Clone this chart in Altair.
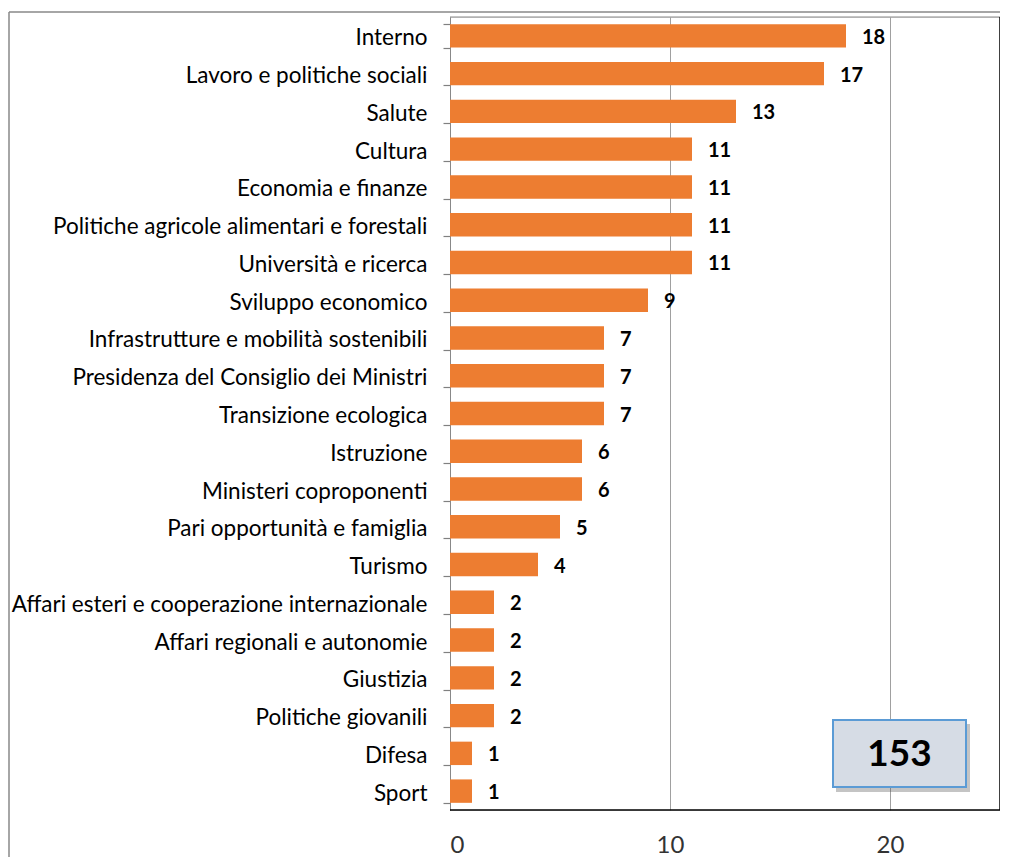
import altair as alt
import pandas as pd

categories = [
    "Interno", "Lavoro e politiche sociali", "Salute", "Cultura", "Economia e finanze",
    "Politiche agricole alimentari e forestali", "Università e ricerca", "Sviluppo economico",
    "Infrastrutture e mobilità sostenibili", "Presidenza del Consiglio dei Ministri",
    "Transizione ecologica", "Istruzione", "Ministeri coproponenti",
    "Pari opportunità e famiglia", "Turismo", "Affari esteri e cooperazione internazionale",
    "Affari regionali e autonomie", "Giustizia", "Politiche giovanili", "Difesa", "Sport",
]
values = [18, 17, 13, 11, 11, 11, 11, 9, 7, 7, 7, 6, 6, 5, 4, 2, 2, 2, 2, 1, 1]
x_ticks = [0, 10, 20]
total = sum(values)

df = pd.DataFrame({"cat": categories, "val": values})

W, H = 550, 793
FONT = "Lato"

y_enc = alt.Y("cat:N", sort=categories, title=None,
              scale=alt.Scale(paddingInner=0.38, paddingOuter=0.19),
              axis=alt.Axis(labelFontSize=22.5, labelFont=FONT, labelColor="#000000",
                            labelPadding=16, labelOffset=2, ticks=True, tickSize=7,
                            tickWidth=1.2, tickColor="#808080", tickBand="extent",
                            tickExtra=True, domainColor="#888888", labelLimit=600))
x_enc = alt.X("val:Q", title=None,
              scale=alt.Scale(domain=[0, 25], nice=False),
              axis=alt.Axis(values=x_ticks, labelFontSize=24, labelFont=FONT,
                            labelColor="#333333", ticks=False, domain=False,
                            grid=True, gridColor="#a0a0a0", labelPadding=23))

bars = alt.Chart(df).mark_bar(color="#ED7D31").encode(x=x_enc, y=y_enc)

labels = alt.Chart(df).mark_text(align="left", dx=16, dy=2, fontSize=20, fontWeight="bold",
                                 font=FONT, color="#000000").encode(
    x="val:Q", y=alt.Y("cat:N", sort=categories), text="val:Q")

# plot frame: top gray, right & bottom black
frame_top = alt.Chart().mark_rule(color="#888888", strokeWidth=1).encode(
    x=alt.value(0), x2=alt.value(W), y=alt.value(0))
frame_right = alt.Chart().mark_rule(color="#000000", strokeWidth=1.5).encode(
    x=alt.value(W), y=alt.value(0), y2=alt.value(H))
frame_bottom = alt.Chart().mark_rule(color="#000000", strokeWidth=1.5).encode(
    x=alt.value(0), x2=alt.value(W), y=alt.value(H))

# outer chart frame
outer_left = alt.Chart().mark_rule(color="#888888", strokeWidth=1.5).encode(
    x=alt.value(-441), y=alt.value(-5), y2=alt.value(H + 60))
outer_top = alt.Chart().mark_rule(color="#888888", strokeWidth=1.5).encode(
    x=alt.value(-441), x2=alt.value(W + 30), y=alt.value(-5))

# total box
bx0, bx1, by0, by1 = 383, 516, 703, 770
shadow = alt.Chart().mark_rect(color="#555555", opacity=0.35).encode(
    x=alt.value(bx0 + 3), x2=alt.value(bx1 + 4), y=alt.value(by0 + 4), y2=alt.value(by1 + 5))
box = alt.Chart().mark_rect(fill="#D6DCE5", stroke="#5B9BD5", strokeWidth=2).encode(
    x=alt.value(bx0), x2=alt.value(bx1), y=alt.value(by0), y2=alt.value(by1))
box_text = alt.Chart(pd.DataFrame({"t": [str(total)]})).mark_text(
    fontSize=37, fontWeight="bold", font=FONT, color="#000000", baseline="middle").encode(
    x=alt.value((bx0 + bx1) / 2), y=alt.value((by0 + by1) / 2 + 1), text="t:N")

chart = alt.layer(
    bars, labels, frame_top, frame_right, frame_bottom, outer_left, outer_top,
    shadow, box, box_text
).properties(
    width=W, height=H, autosize=alt.AutoSizeParams(type="none"),
    padding={"left": 442, "top": 9, "right": 0, "bottom": 50},
).configure_view(stroke=None).configure(background="white")

chart.save("out.html", embed_options={"renderer": "svg", "actions": False})
